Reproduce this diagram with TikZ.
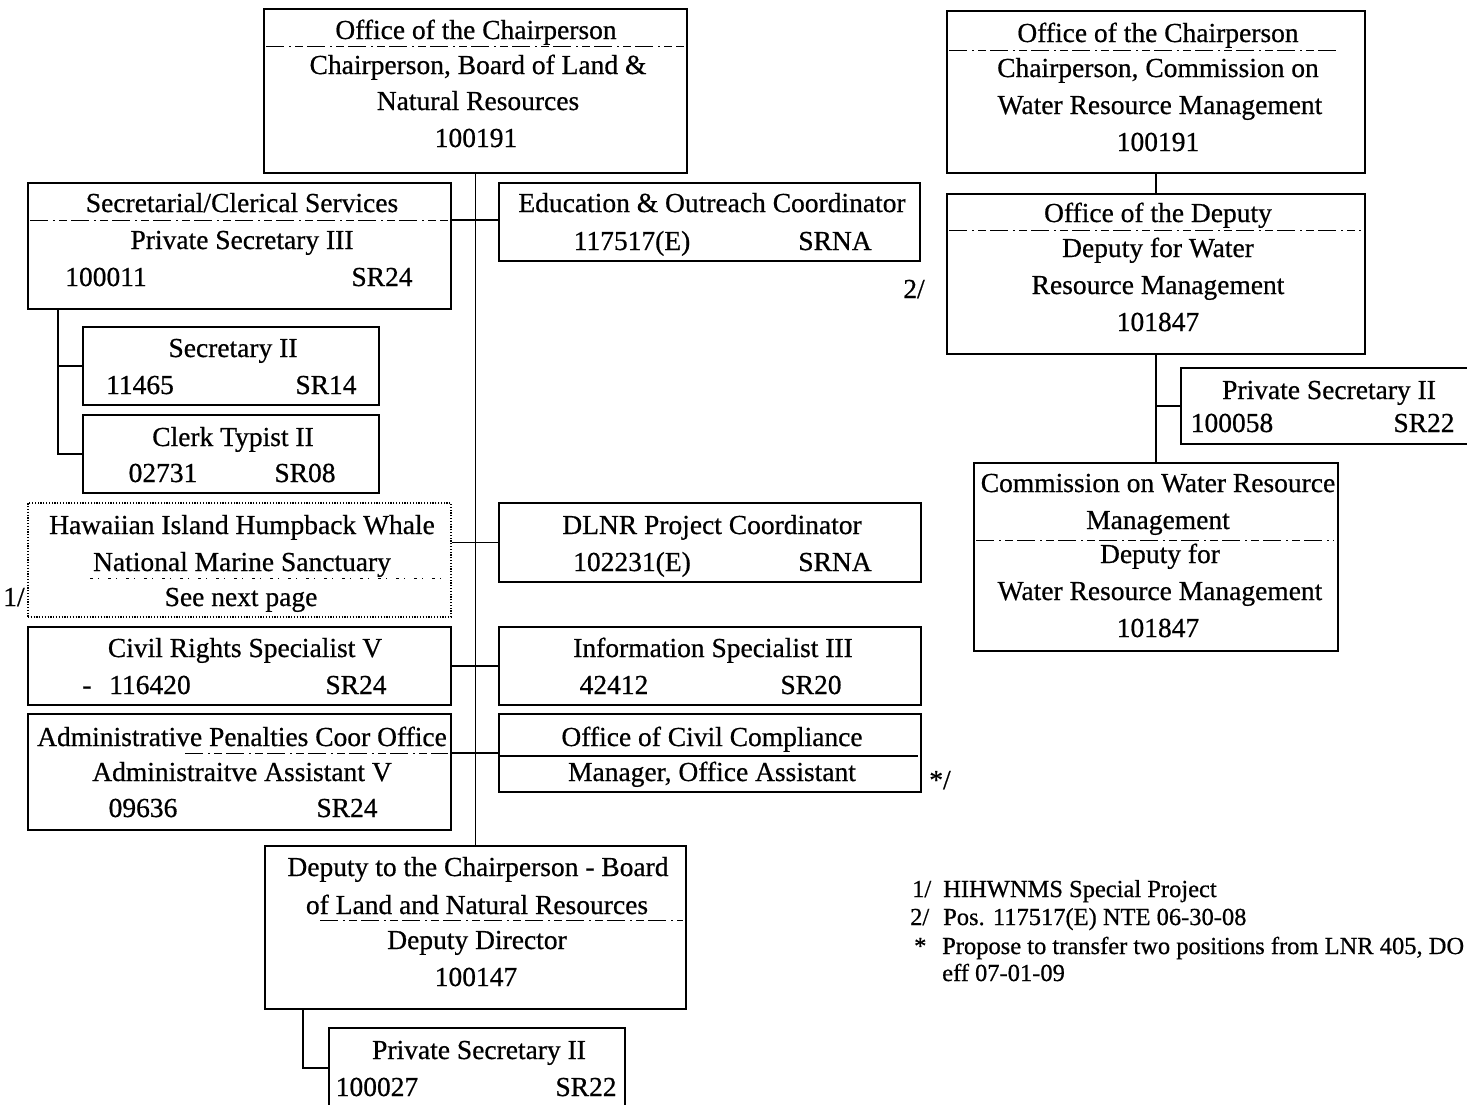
\documentclass[tikz,border=0pt]{standalone}
\usepackage{fontspec}
\setmainfont{Liberation Serif}[FakeBold=0.6]
\usetikzlibrary{calc}
\newcommand\obox[6][box]{\node[#1, minimum width=#5pt, minimum height=#6pt] (#2) at (#3,#4) {};}
\newcommand\tline[4]{\node[txt] (#1) at (#2,#3) {#4};}
\begin{document}
\begin{tikzpicture}[x=1pt,y=-1pt,
  box/.style={draw, line width=1.8pt, inner sep=0pt, anchor=north west},
  dotbox/.style={box, line width=1.8pt, dash pattern=on 1.2pt off 1.6pt},
  txt/.style={anchor=base, inner sep=0pt, font=\fontsize{27.5}{33}\selectfont},
  note/.style={anchor=base west, inner sep=0pt, font=\fontsize{24.5}{29}\selectfont},
  sep/.style={line width=1pt, dash pattern=on 18pt off 5pt on 2pt off 4pt on 8pt off 4pt},
  solidsep/.style={line width=1.2pt},
  link/.style={line width=1.6pt}]
\useasboundingbox (0,0) rectangle (1467,1104);
\clip (0,0) rectangle (1467,1104);
\fill[white] (0,0) rectangle (1467,1104);

% ---------- left chart ----------
\obox{chair}{263}{8}{423}{164}
\tline{chair1}{476}{39}{Office of the Chairperson}
\tline{chair2}{478}{74}{Chairperson, Board of Land \&}
\tline{chair3}{478}{110}{Natural Resources}
\tline{chair4}{476}{147}{100191}
\draw[sep] (266,46) -- (684,46);

\obox{secr}{27}{182}{423}{126}
\tline{secr1}{242}{212}{Secretarial/Clerical Services}
\tline{secr2}{242}{249}{Private Secretary III}
\tline{secr3}{106}{286}{100011}
\tline{secr4}{382}{286}{SR24}
\draw[sep] (30,220) -- (448,220);

\obox{educ}{498}{182}{421}{78}
\tline{educ1}{712}{212}{Education \& Outreach Coordinator}
\tline{educ2}{632}{250}{117517(E)}
\tline{educ3}{835}{250}{SRNA}

\obox{secii}{82}{326}{296}{78}
\tline{secii1}{233}{357}{Secretary II}
\tline{secii2}{140}{394}{11465}
\tline{secii3}{326}{394}{SR14}

\obox{clerk}{82}{414}{296}{78}
\tline{clerk1}{233}{446}{Clerk Typist II}
\tline{clerk2}{163}{482}{02731}
\tline{clerk3}{305}{482}{SR08}

\obox[dotbox]{whale}{27}{502}{423}{114}
\tline{whale1}{242}{534}{Hawaiian Island Humpback Whale}
\tline{whale2}{242}{571}{National Marine Sanctuary}
\tline{whale3}{241}{606}{See next page}
\draw[line width=1pt, dash pattern=on 3pt off 5pt on 1pt off 9pt] (90,578) -- (448,578);

\obox{dlnr}{498}{502}{422}{79}
\tline{dlnr1}{712}{534}{DLNR Project Coordinator}
\tline{dlnr2}{632}{571}{102231(E)}
\tline{dlnr3}{835}{571}{SRNA}

\obox{civil}{27}{626}{423}{78}
\tline{civil1}{245}{657}{Civil Rights Specialist V}
\tline{civil2}{87}{694}{-}
\tline{civil3}{150}{694}{116420}
\tline{civil4}{356}{694}{SR24}

\obox{info}{498}{626}{422}{78}
\tline{info1}{713}{657}{Information Specialist III}
\tline{info2}{614}{694}{42412}
\tline{info3}{811}{694}{SR20}

\obox{admin}{27}{713}{423}{116}
\tline{admin1}{242}{746}{Administrative Penalties Coor Office}
\tline{admin2}{242}{781}{Administraitve Assistant V}
\tline{admin3}{143}{817}{09636}
\tline{admin4}{347}{817}{SR24}
\draw[sep] (185,753) -- (448,753);

\obox{occ}{498}{713}{422}{78}
\tline{occ1}{712}{746}{Office of Civil Compliance}
\tline{occ2}{712}{781}{Manager, Office Assistant}
\draw[solidsep] (500,756) -- (918,756);

\obox{deputy}{264}{845}{421}{163}
\tline{deputy1}{478}{876}{Deputy to the Chairperson - Board}
\tline{deputy2}{477}{914}{of Land and Natural Resources}
\tline{deputy3}{477}{949}{Deputy Director}
\tline{deputy4}{476}{986}{100147}
\draw[sep] (320,920) -- (683,920);

\obox{dps}{328}{1027}{296}{80}
\tline{dps1}{479}{1059}{Private Secretary II}
\tline{dps2}{377}{1096}{100027}
\tline{dps3}{586}{1096}{SR22}

% ---------- right chart ----------
\obox{rchair}{946}{10}{418}{162}
\tline{rchair1}{1158}{42}{Office of the Chairperson}
\tline{rchair2}{1158}{77}{Chairperson, Commission on}
\tline{rchair3}{1160}{114}{Water Resource Management}
\tline{rchair4}{1158}{151}{100191}
\draw[sep] (949,50) -- (1340,50);

\obox{rdep}{946}{193}{418}{160}
\tline{rdep1}{1158}{222}{Office of the Deputy}
\tline{rdep2}{1158}{257}{Deputy for Water}
\tline{rdep3}{1158}{294}{Resource Management}
\tline{rdep4}{1158}{331}{101847}
\draw[sep] (949,230) -- (1361,230);

\obox{rps}{1180}{367}{292}{76}
\tline{rps1}{1329}{399}{Private Secretary II}
\tline{rps2}{1232}{432}{100058}
\tline{rps3}{1424}{432}{SR22}

\obox{comm}{973}{462}{364}{188}
\tline{comm1}{1158}{492}{Commission on Water Resource}
\tline{comm2}{1158}{529}{Management}
\tline{comm3}{1160}{563}{Deputy for}
\tline{comm4}{1160}{600}{Water Resource Management}
\tline{comm5}{1158}{637}{101847}
\draw[sep] (976,540) -- (1334,540);

% ---------- connectors ----------
\draw[link] (chair.south) -- (deputy.north);
\draw[link] ($(secr.north east)+(0,38)$) -- ($(educ.north west)+(0,38)$);
\draw[link] (dlnr.west -| whale.east) -- (dlnr.west);
\draw[link] (civil.east) -- (info.west);
\draw[link] (occ.west -| admin.east) -- (occ.west);
\coordinate (bx) at (58,308);
\draw[link] (bx) |- (clerk.west);
\draw[link] (secii.west -| bx) -- (secii.west);
\coordinate (dx) at (303,1008);
\draw[link] (dx) |- (dps.west);
\draw[link] (rchair.south) -- (rdep.north);
\draw[link] (rdep.south) -- (comm.north);
\draw[link] (rps.west -| rdep.south) -- (rps.west);

% ---------- marks ----------
\node[txt] (mk2) at (914,298) {2/};
\node[txt] (mk1) at (14,606) {1/};
\node[txt] (mk3) at (940,789) {*/};

% ---------- footnotes ----------
\node[note] (fn1a) at (912,897) {1/};
\node[note] (fn1b) at (943,897) {HIHWNMS Special Project};
\node[note] (fn2a) at (910,925) {2/};
\node[note] (fn2b) at (943,925) {Pos. 117517(E) NTE 06-30-08};
\node[note] (fn3a) at (914,954) {*};
\node[note] (fn3b) at (942,954) {Propose to transfer two positions from LNR 405, DO};
\node[note] (fn4) at (942,981) {eff 07-01-09};
\end{tikzpicture}
\end{document}
